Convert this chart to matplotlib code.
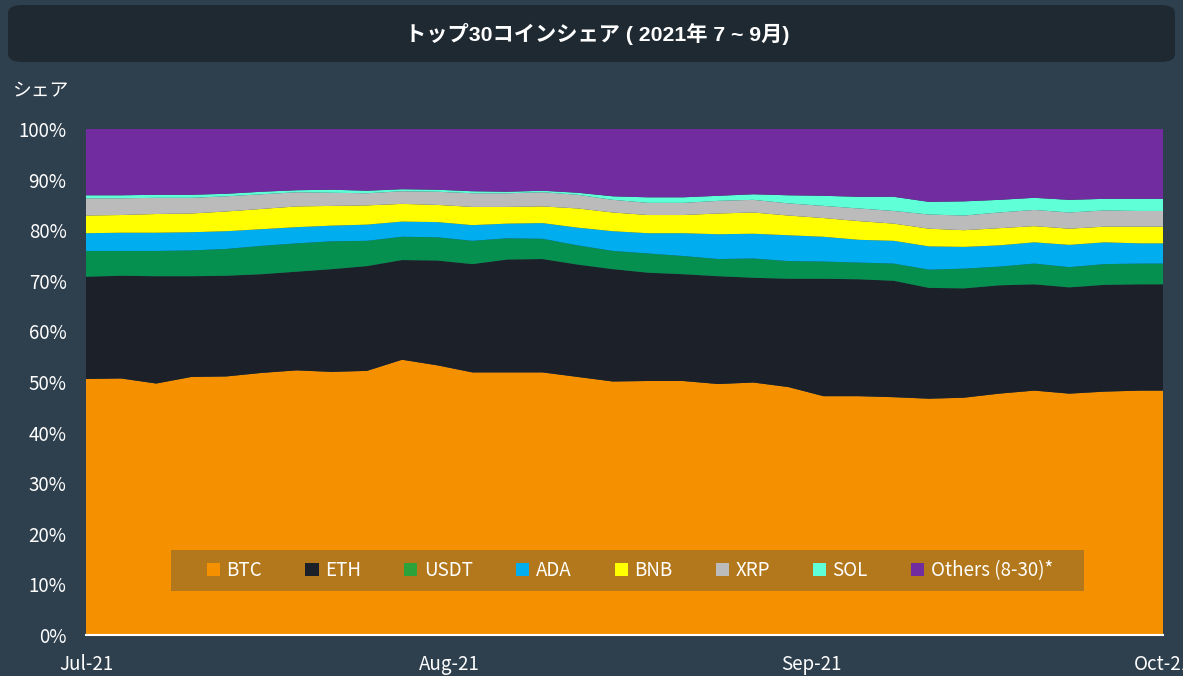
import pandas as pd
import matplotlib
matplotlib.use('Agg')
import matplotlib.pyplot as plt
import matplotlib.dates as mdates
from matplotlib.patches import FancyBboxPatch, Patch, Rectangle

plt.rcParams['font.family'] = ['Noto Sans CJK JP', 'DejaVu Sans']

# sampled every 3 days from 2021-07-01, last point 2021-10-01
dates = pd.date_range('2021-07-01', periods=31, freq='3D').append(pd.DatetimeIndex(['2021-10-01']))

btc = [50.6, 50.7, 49.7, 51.0, 51.1, 51.8, 52.3, 52.0, 52.2, 54.4, 53.3, 51.9, 51.9, 51.9, 51.0, 50.1,
       50.2, 50.2, 49.6, 49.9, 49.0, 47.2, 47.2, 47.0, 46.7, 46.9, 47.7, 48.3, 47.7, 48.1, 48.3, 48.3]
eth = [20.2, 20.3, 21.2, 19.9, 19.9, 19.5, 19.5, 20.3, 20.7, 19.7, 20.7, 21.4, 22.3, 22.4, 22.2, 22.2,
       21.4, 21.1, 21.3, 20.7, 21.4, 23.2, 23.1, 23.0, 21.9, 21.6, 21.4, 21.0, 21.0, 21.1, 21.0, 21.0]
usdt = [5.1, 4.9, 5.0, 5.1, 5.3, 5.6, 5.6, 5.5, 5.0, 4.6, 4.6, 4.6, 4.2, 4.0, 3.8, 3.6,
        3.8, 3.6, 3.4, 3.8, 3.5, 3.4, 3.3, 3.4, 3.6, 3.9, 3.7, 4.1, 4.0, 4.1, 4.1, 4.1]
ada = [3.5, 3.6, 3.6, 3.6, 3.5, 3.3, 3.2, 3.1, 3.2, 3.0, 3.0, 3.1, 2.9, 3.1, 3.5, 3.9,
       4.0, 4.5, 4.9, 4.9, 5.1, 4.9, 4.5, 4.5, 4.6, 4.3, 4.2, 4.2, 4.4, 4.3, 4.0, 4.0]
bnb = [3.5, 3.5, 3.7, 3.7, 3.9, 4.0, 4.1, 3.9, 3.8, 3.5, 3.4, 3.6, 3.3, 3.3, 3.8, 3.7,
       3.6, 3.6, 4.1, 4.2, 3.9, 3.7, 3.7, 3.4, 3.5, 3.3, 3.4, 3.2, 3.2, 3.1, 3.3, 3.3]
xrp = [3.4, 3.3, 3.2, 3.1, 3.0, 2.9, 2.8, 2.6, 2.4, 2.5, 2.6, 2.7, 2.7, 2.8, 2.7, 2.5,
       2.4, 2.4, 2.5, 2.5, 2.4, 2.4, 2.5, 2.5, 2.8, 2.9, 3.1, 3.2, 3.2, 3.2, 3.1, 3.1]
sol = [0.6, 0.6, 0.6, 0.6, 0.5, 0.5, 0.4, 0.6, 0.5, 0.4, 0.4, 0.4, 0.3, 0.3, 0.4, 0.7,
       1.1, 1.1, 1.0, 1.1, 1.6, 2.0, 2.3, 2.8, 2.5, 2.8, 2.5, 2.4, 2.5, 2.3, 2.4, 2.4]
others = [13.1, 13.1, 13.0, 13.0, 12.8, 12.4, 12.1, 12.0, 12.2, 11.9, 12.0, 12.3, 12.4, 12.2, 12.6, 13.3,
          13.5, 13.5, 13.2, 12.9, 13.1, 13.2, 13.7, 13.4, 14.4, 14.3, 14.0, 13.6, 14.0, 13.8, 13.8, 13.8]

labels = ['BTC', 'ETH', 'USDT', 'ADA', 'BNB', 'XRP', 'SOL', 'Others (8-30)*']
colors = ['#f59100', '#1c2129', '#06904f', '#00adee', '#ffff00', '#bbbbbb', '#5fffd8', '#712d9f']
legend_colors = ['#f59100', '#1c2129', '#2ca33a', '#00adee', '#ffff00', '#bbbbbb', '#5fffd8', '#712d9f']

bg = '#2e3f4e'
fig = plt.figure(figsize=(11.83, 6.76), dpi=100, facecolor=bg)

# title box
box = FancyBboxPatch((8 / 1183, 1 - 62 / 676), 1167 / 1183, 57 / 676,
                     boxstyle='round,pad=0,rounding_size=0.012', transform=fig.transFigure,
                     facecolor='#1e2932', edgecolor='none')
fig.patches.append(box)
fig.text(597 / 1183, 1 - 34 / 676, 'トップ30コインシェア ( 2021年 7 ~ 9月)', color='white',
         fontsize=15.3, fontweight='bold', ha='center', va='center',
         family=['Liberation Sans', 'Noto Sans CJK JP'])
fig.text(12 / 1183, 1 - 91 / 676, 'シェア', color='white', fontsize=13.5, ha='left', va='center')

ax = fig.add_axes([86 / 1183, 41 / 676, 1077 / 1183, 506 / 676])
ax.set_facecolor(bg)
ax.stackplot(dates, btc, eth, usdt, ada, bnb, xrp, sol, others, colors=colors, linewidth=0)

ax.set_xlim(pd.Timestamp('2021-07-01'), pd.Timestamp('2021-10-01'))
ax.set_ylim(0, 100)
ax.set_yticks(range(0, 101, 10))
ax.set_yticklabels([f'{v}%' for v in range(0, 101, 10)])
ax.xaxis.set_major_locator(mdates.MonthLocator())
ax.xaxis.set_major_formatter(mdates.DateFormatter('%b-%y'))
ax.tick_params(axis='both', length=0, colors='white', labelsize=13.5)
ax.tick_params(axis='x', pad=14)
ax.tick_params(axis='y', pad=14)
for s in ['top', 'right', 'left']:
    ax.spines[s].set_visible(False)
ax.spines['bottom'].set_color('white')
ax.spines['bottom'].set_linewidth(1.5)

# legend band
band = Rectangle((171 / 1183, 1 - 591 / 676), 913 / 1183, 41 / 676, transform=fig.transFigure,
                 facecolor='#b3781b', edgecolor='none', zorder=4)
ax.add_patch(band)

handles = [Patch(facecolor=c, edgecolor='none') for c in legend_colors]
leg = ax.legend(handles, labels, ncol=8, loc='center', bbox_to_anchor=(0.505, 0.127),
                frameon=False, fontsize=13.5, labelcolor='white', handlelength=0.7, handleheight=0.7,
                handletextpad=0.35, columnspacing=2.3, borderpad=0.6)
leg.set_zorder(5)

fig.savefig('out.png', dpi=100, facecolor=bg)
